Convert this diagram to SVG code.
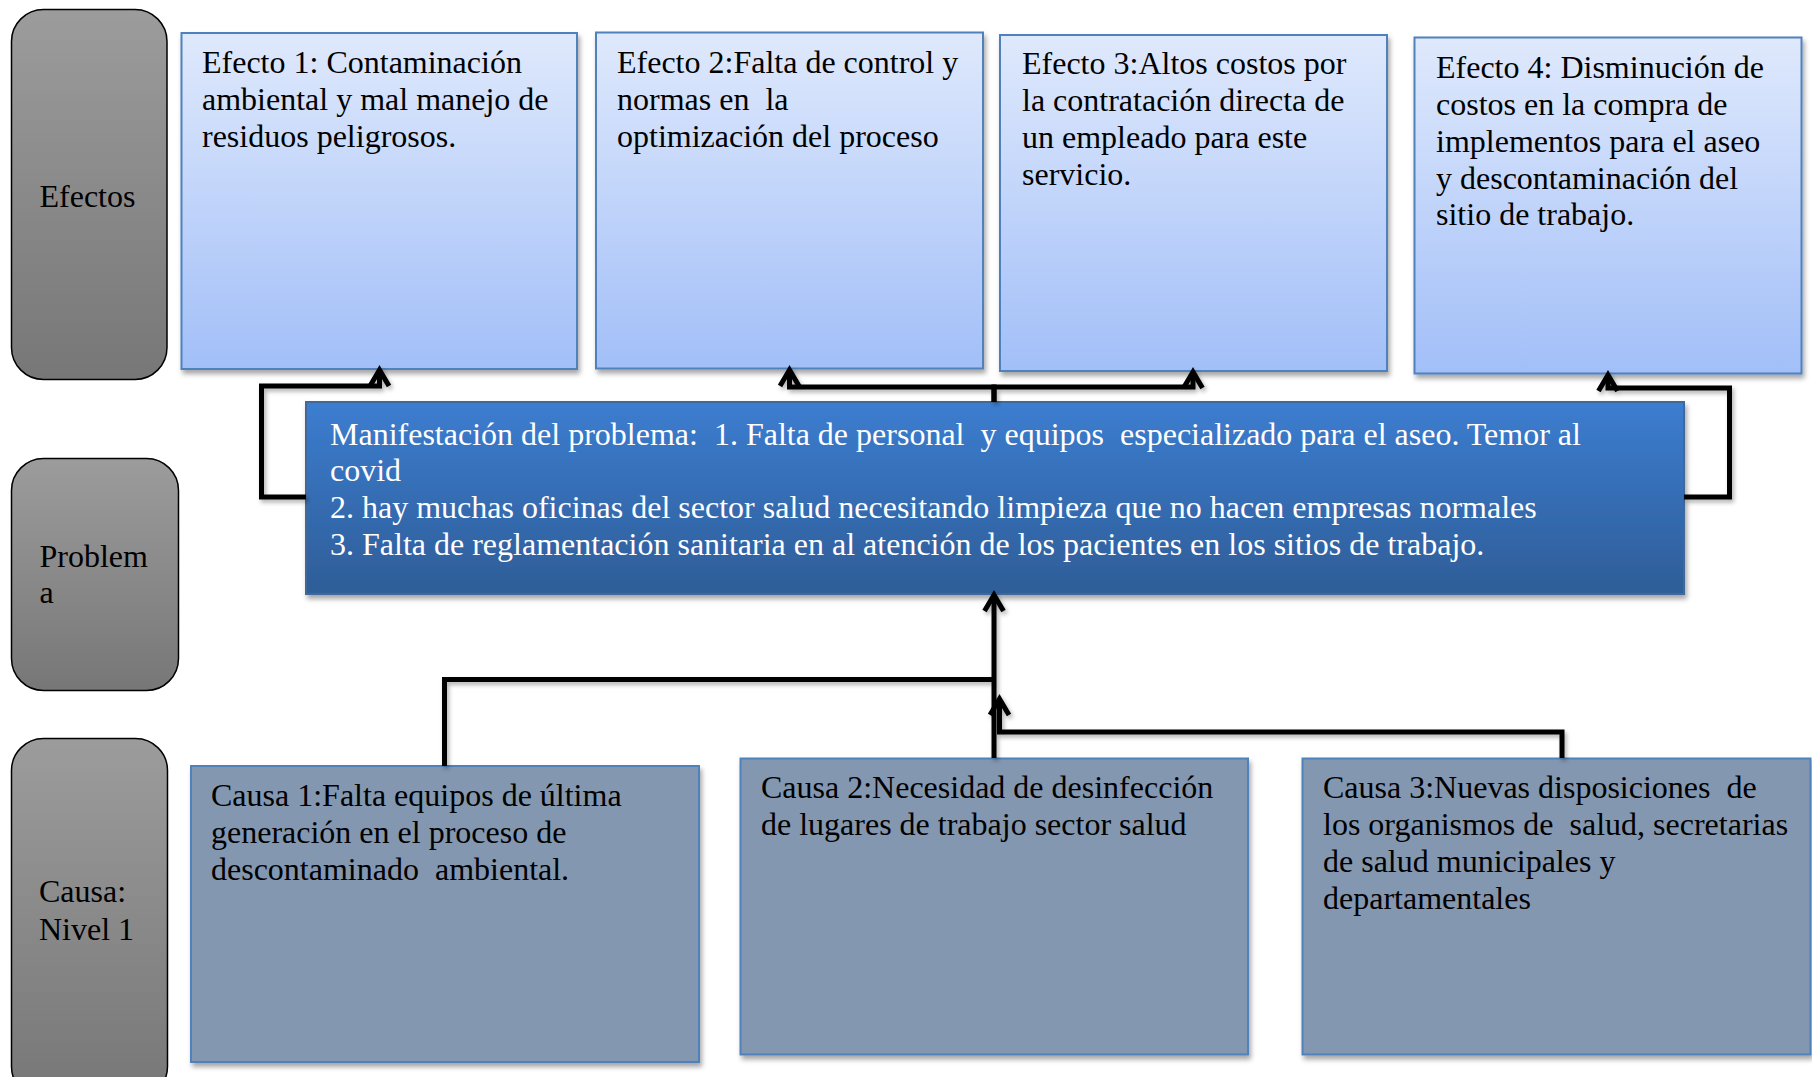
<svg xmlns="http://www.w3.org/2000/svg" width="1812" height="1077" viewBox="0 0 1812 1077">
<style>
  text { font-family: "Liberation Serif", "Times New Roman", serif; font-size: 32px; fill: #000; white-space: pre; }
  .label { fill: url(#grayGrad); stroke: #000; stroke-width: 1.5; }
  .effect { fill: url(#effGrad); stroke: #4f81bd; stroke-width: 2; filter: url(#shadow); }
  .cause { fill: #8497b0; stroke: #4f81bd; stroke-width: 2; filter: url(#shadow); }
  .problem { fill: url(#probGrad); stroke: #41679b; stroke-width: 2; filter: url(#shadow); }
  .wt { fill: #ffffff; }
  .conn { fill: none; stroke: #000; stroke-width: 5; stroke-linejoin: miter; filter: url(#lshadow); }
  .arrow { fill: none; stroke: #000; stroke-width: 5; marker-end: url(#head); }
</style>
<defs>
  <linearGradient id="grayGrad" x1="0" y1="0" x2="0" y2="1">
    <stop offset="0" stop-color="#9c9c9c"/>
    <stop offset="1" stop-color="#777777"/>
  </linearGradient>
  <linearGradient id="effGrad" x1="0" y1="0" x2="0" y2="1">
    <stop offset="0" stop-color="#dfe9fc"/>
    <stop offset="1" stop-color="#a2bff8"/>
  </linearGradient>
  <linearGradient id="probGrad" x1="0" y1="0" x2="0" y2="1">
    <stop offset="0" stop-color="#3c7dd0"/>
    <stop offset="1" stop-color="#2e5d97"/>
  </linearGradient>
  <filter id="shadow" x="-5%" y="-5%" width="112%" height="115%">
    <feDropShadow dx="2" dy="4" stdDeviation="2.5" flood-color="#000" flood-opacity="0.35"/>
  </filter>
  <filter id="lshadow" x="-10%" y="-10%" width="120%" height="130%">
    <feDropShadow dx="2" dy="3" stdDeviation="2" flood-color="#000" flood-opacity="0.3"/>
  </filter>
  <marker id="head" markerUnits="userSpaceOnUse" viewBox="0 0 24 24" markerWidth="24" markerHeight="24" refX="19" refY="12" orient="auto">
    <path d="M3,2.5 L19,12 L3,21.5" fill="none" stroke="#000" stroke-width="5"/>
  </marker>
</defs>

<g id="label-efectos">
  <rect class="label" x="11.5" y="9.5" width="155.5" height="370" rx="32" ry="32"/>
  <text x="39.5" y="207">Efectos</text>
</g>
<g id="label-problema">
  <rect class="label" x="11.5" y="458.5" width="167" height="232" rx="32" ry="32"/>
  <text x="39.5" y="567">Problem</text>
  <text x="39.5" y="603">a</text>
</g>
<g id="label-causa">
  <rect class="label" x="11.5" y="738.5" width="156" height="360" rx="32" ry="32"/>
  <text x="39" y="902">Causa:</text>
  <text x="39" y="940">Nivel 1</text>
</g>

<g id="efecto1">
  <rect class="effect" x="181.5" y="33" width="395.5" height="336"/>
  <text x="202" y="73">Efecto 1: Contaminación</text>
  <text x="202" y="110">ambiental y mal manejo de</text>
  <text x="202" y="147">residuos peligrosos.</text>
</g>
<g id="efecto2">
  <rect class="effect" x="596" y="32.5" width="387" height="336"/>
  <text x="617" y="73">Efecto 2:Falta de control y</text>
  <text x="617" y="110">normas en  la</text>
  <text x="617" y="147">optimización del proceso</text>
</g>
<g id="efecto3">
  <rect class="effect" x="1000" y="35" width="387" height="336"/>
  <text x="1022" y="74">Efecto 3:Altos costos por</text>
  <text x="1022" y="111">la contratación directa de</text>
  <text x="1022" y="148">un empleado para este</text>
  <text x="1022" y="185">servicio.</text>
</g>
<g id="efecto4">
  <rect class="effect" x="1414.5" y="37.5" width="387" height="336"/>
  <text x="1436" y="78">Efecto 4: Disminución de</text>
  <text x="1436" y="115">costos en la compra de</text>
  <text x="1436" y="152">implementos para el aseo</text>
  <text x="1436" y="189">y descontaminación del</text>
  <text x="1436" y="225">sitio de trabajo.</text>
</g>

<g id="problema">
  <rect class="problem" x="306" y="402" width="1378" height="192"/>
  <text class="wt" x="330" y="445">Manifestación del problema:  1. Falta de personal  y equipos  especializado para el aseo. Temor al</text>
  <text class="wt" x="330" y="481">covid</text>
  <text class="wt" x="330" y="518">2. hay muchas oficinas del sector salud necesitando limpieza que no hacen empresas normales</text>
  <text class="wt" x="330" y="555">3. Falta de reglamentación sanitaria en al atención de los pacientes en los sitios de trabajo.</text>
</g>

<g id="causa1">
  <rect class="cause" x="191" y="766" width="508" height="296"/>
  <text x="211" y="806">Causa 1:Falta equipos de última</text>
  <text x="211" y="843">generación en el proceso de</text>
  <text x="211" y="880">descontaminado  ambiental.</text>
</g>
<g id="causa2">
  <rect class="cause" x="740.5" y="758.5" width="507.5" height="296"/>
  <text x="761" y="798">Causa 2:Necesidad de desinfección</text>
  <text x="761" y="835">de lugares de trabajo sector salud</text>
</g>
<g id="causa3">
  <rect class="cause" x="1302.5" y="758.5" width="508" height="296"/>
  <text x="1323" y="798">Causa 3:Nuevas disposiciones  de</text>
  <text x="1323" y="835">los organismos de  salud, secretarias</text>
  <text x="1323" y="872">de salud municipales y</text>
  <text x="1323" y="909">departamentales</text>
</g>

<g id="connectors" class="conn">
  <path class="arrow" d="M306,497 H261.5 V386 H379.5 V370"/>
  <path class="arrow" d="M994,402 V387 H789.5 V370"/>
  <path class="arrow" d="M994,402 V387 H1193 V372"/>
  <path class="arrow" d="M1684,497 H1729.5 V388 H1608 V375"/>
  <path d="M444.5,766 V679.5 H994"/>
  <path class="arrow" d="M994,758 V595"/>
  <path class="arrow" d="M1562,758 V732 H999.5 V699"/>
</g>
</svg>
